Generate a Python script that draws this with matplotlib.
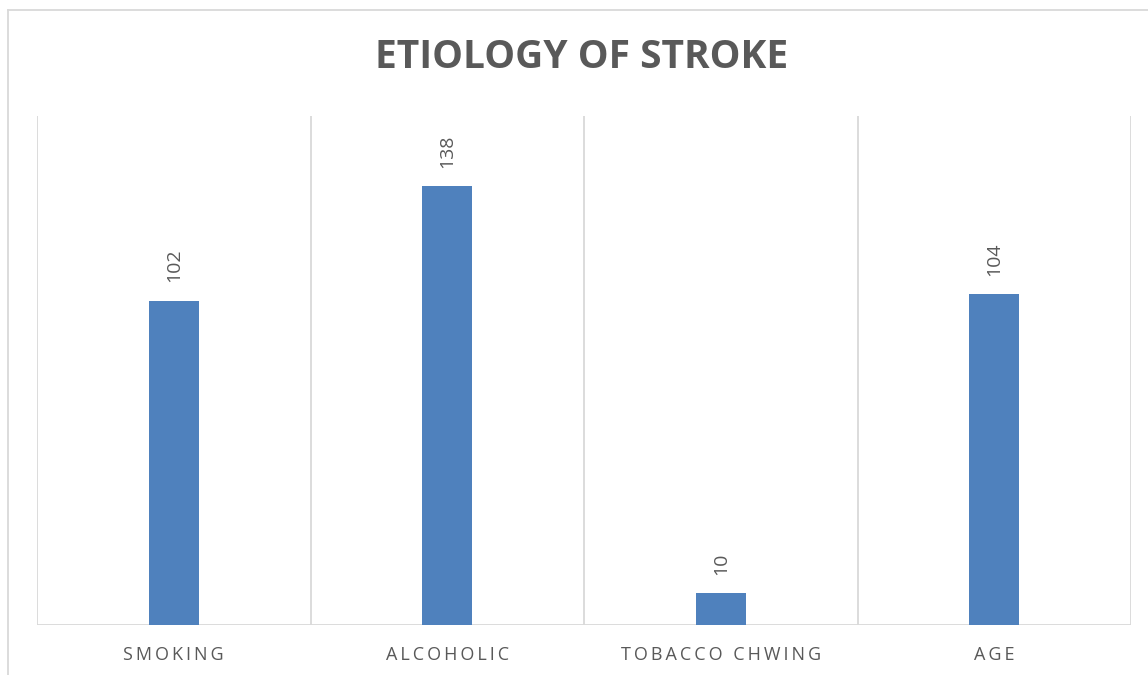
import matplotlib
matplotlib.use('Agg')
import matplotlib.pyplot as plt
from matplotlib.lines import Line2D

plt.rcParams['font.family'] = ['Open Sans', 'DejaVu Sans']

categories = ['SMOKING', 'ALCOHOLIC', 'TOBACCO CHWING', 'AGE']
counts = [102, 138, 10, 104]
title = 'ETIOLOGY OF STROKE'

W, H = 1148, 675
fig = plt.figure(figsize=(W / 100, H / 100), dpi=100)
ax = fig.add_axes([37 / W, (H - 625) / H, (1131 - 37) / W, (625 - 116) / H])

x = range(len(categories))
ax.bar(x, counts, width=0.183, color='#4f81bd', zorder=3)

ax.set_xlim(-0.5, len(categories) - 0.5)
ax.set_ylim(0, 160)

# category separators + baseline
for b in [i - 0.5 for i in range(len(categories) + 1)]:
    ax.axvline(b, color='#d9d9d9', lw=1.3, zorder=1)
ax.axhline(0, color='#d9d9d9', lw=1.3, zorder=2)

for s in ax.spines.values():
    s.set_visible(False)
ax.set_yticks([])
ax.set_xticks(list(x))
ax.set_xticklabels(['\u2009'.join(c) for c in categories], fontsize=13, color='#595959')
ax.tick_params(axis='x', length=0, pad=15)

for i, v in zip(x, counts):
    ax.annotate(str(v), (i, v), xytext=(0, 13), textcoords='offset points',
                rotation=90, ha='center', va='bottom', fontsize=14, color='#595959')

fig.text(582 / W, 1 - 58 / H, title,
         ha='center', va='center', fontsize=28, fontweight='bold', color='#595959')

# chart frame (top and left edges only visible)
fig.add_artist(Line2D([8 / W, 1], [1 - 10 / H, 1 - 10 / H], transform=fig.transFigure,
                      color='#d9d9d9', lw=1.3))
fig.add_artist(Line2D([8 / W, 8 / W], [0, 1 - 10 / H], transform=fig.transFigure,
                      color='#d9d9d9', lw=1.3))

fig.savefig('out.png', dpi=100, facecolor='white')
